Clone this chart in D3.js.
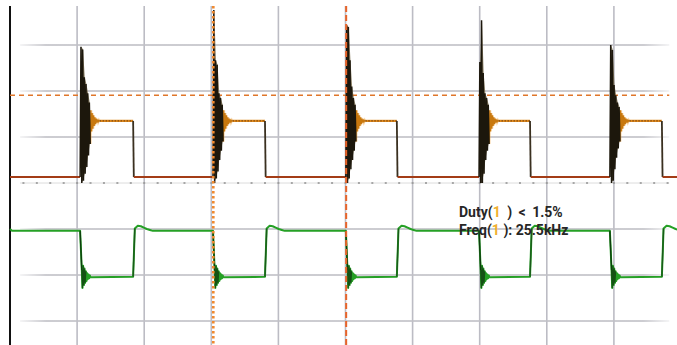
<!DOCTYPE html>
<html>
<head>
<meta charset="utf-8">
<script src="https://cdn.jsdelivr.net/npm/d3@7"></script>
<style>
  body { margin: 0; background: #fff; }
  svg { display: block; }
</style>
</head>
<body>
<svg id="scope"></svg>
<script>
// time in microseconds (20 us/div), amplitude in divisions
const riseUs = [20.9, 60.5, 100.1, 139.8, 178.8];
const fallUs = [36.7, 76.0, 115.3, 155.0, 194.3];
const ch1Levels = [0.13, 1.35];           // low, high
const ch2Levels = [-1.04, -2.04];         // high, low
// ch1 ringing spikes at turn-on, alternating peak / trough (div)
const ch1Spikes = [
    [2.96, 0.0, 2.90, 0.05, 2.30, 0.20, 2.15, 0.35, 1.95, 0.60, 1.75, 0.85],
    [3.76, 0.0, 2.67, 0.10, 2.57, 0.25, 1.95, 0.50, 1.85, 0.70, 1.70, 0.90],
    [3.43, 0.0, 3.39, 0.10, 2.67, 0.30, 2.10, 0.50, 1.85, 0.70, 1.70, 0.90],
    [2.63, 0.0, 3.54, 0.00, 2.39, 0.20, 1.95, 0.50, 1.85, 0.70, 1.70, 0.85],
    [3.00, 0.0, 2.89, 0.05, 2.13, 0.30, 1.91, 0.55, 1.75, 0.75, 1.65, 0.90]
];
const ch1Ring = [1.58, 1.12, 1.52, 1.18, 1.47, 1.24, 1.43, 1.28, 1.40, 1.31, 1.38, 1.33, 1.36, 1.34];
const ch2Ring = [-2.28, -1.80, -2.22, -1.86, -2.17, -1.92, -2.13, -1.96, -2.09, -1.99, -2.07, -2.01, -2.05];
const ch2Overshoot = [-0.93, -0.94, -0.97, -1.00, -1.02, -1.04];
const cursorUs = [60.6, 100.2];
const trigLevel = [1.91];
const readouts = [["Duty(", "1", " ) < 1.5%"], ["Freq(", "1", " ): 25.5kHz"]];

const W = 677, H = 345;
const spikeStep = 0.25, ringStep = 0.2, overStep = 0.9;

const svg = d3.select("#scope").attr("width", W).attr("height", H);
svg.append("rect").attr("width", W).attr("height", H).attr("fill", "#fff");

const x = d3.scaleLinear().domain([0, 200]).range([10, 681]);
const y = d3.scaleLinear().domain([-4, 4]).range([367, -1]);
const line = d3.line().x(d => x(d[0])).y(d => y(d[1]));

// faded grid line gradient
const defs = svg.append("defs");
const gr = defs.append("linearGradient").attr("id", "fadeH");
gr.append("stop").attr("offset", "0%").attr("stop-color", "#c0c0c6").attr("stop-opacity", 0.2);
gr.append("stop").attr("offset", "4%").attr("stop-color", "#c0c0c6").attr("stop-opacity", 1);
gr.append("stop").attr("offset", "96%").attr("stop-color", "#c0c0c6").attr("stop-opacity", 1);
gr.append("stop").attr("offset", "100%").attr("stop-color", "#c0c0c6").attr("stop-opacity", 0.2);

const grid = svg.append("g");
grid.selectAll(".vg").data(d3.range(20, 200, 20)).enter().append("line")
    .attr("x1", d => x(d)).attr("x2", d => x(d))
    .attr("y1", 6).attr("y2", H)
    .attr("stroke", "#bcbcc4").attr("stroke-width", 1.6);
grid.selectAll(".hg").data([-3, -2, -1, 1, 2, 3]).enter().append("rect")
    .attr("x", x(3)).attr("width", x(196.5) - x(3))
    .attr("y", d => y(d) - 0.8).attr("height", 1.6)
    .attr("fill", "url(#fadeH)");
// centre axis with minor ticks
grid.append("line")
    .attr("x1", x(3)).attr("x2", x(196.5)).attr("y1", y(0)).attr("y2", y(0))
    .attr("stroke", "#dcdcdc").attr("stroke-width", 1);
grid.selectAll(".mt").data(d3.range(4, 197, 4)).enter().append("line")
    .attr("x1", d => x(d) - 1).attr("x2", d => x(d) + 1)
    .attr("y1", y(0)).attr("y2", y(0))
    .attr("stroke", "#888").attr("stroke-width", 1.4);

// left border
svg.append("line").attr("x1", x(0)).attr("x2", x(0)).attr("y1", 6).attr("y2", H)
    .attr("stroke", "#111").attr("stroke-width", 2);

// trigger level
svg.append("line").attr("x1", x(0)).attr("x2", x(196.5))
    .attr("y1", y(trigLevel[0])).attr("y2", y(trigLevel[0]))
    .attr("stroke", "#e0762a").attr("stroke-width", 1.5).attr("stroke-dasharray", "5,4");

// ---- channel 1 ----
const ch1 = svg.append("g").attr("fill", "none");
const [lo1, hi1] = ch1Levels;
riseUs.forEach((r, i) => {
    const prev = i === 0 ? 0 : fallUs[i - 1] + 0.2;
    ch1.append("path").attr("d", line([[prev, lo1], [r, lo1]]))
        .attr("stroke", "#a33c16").attr("stroke-width", 2);

    const sp = [[r, lo1]].concat(ch1Spikes[i].map((v, k) => [r + (k + 1) * spikeStep, v]));
    const t0 = r + ch1Spikes[i].length * spikeStep;
    const rg = ch1Ring.map((v, k) => [t0 + (k + 1) * ringStep, v]);
    const t1 = t0 + ch1Ring.length * ringStep;

    // envelope of the spikes
    const env = [];
    for (let k = 0; k + 1 < ch1Spikes[i].length; k += 2)
        env.push([r + (k + 1.5) * spikeStep, ch1Spikes[i][k], ch1Spikes[i][k + 1]]);
    ch1.append("path")
        .attr("d", d3.area().x(d => x(d[0])).y0(d => y(d[2])).y1(d => y(d[1]))(env))
        .attr("fill", "#76694a").attr("fill-opacity", 0.85);

    // orange ringing glow + trace
    ch1.append("path").attr("d", line([sp[sp.length - 1]].concat(rg)))
        .attr("stroke", "#f0a038").attr("stroke-width", 3).attr("stroke-opacity", 0.4);
    ch1.append("path").attr("d", line([sp[sp.length - 1]].concat(rg)))
        .attr("stroke", "#c8780e").attr("stroke-width", 1.2);
    // plateau
    ch1.append("path").attr("d", line([[t1, hi1], [fallUs[i], hi1]]))
        .attr("stroke", "#e08a1c").attr("stroke-width", 2.2);
    ch1.append("path").attr("d", line([[t1, hi1], [fallUs[i], hi1]]))
        .attr("stroke", "#6a3a10").attr("stroke-width", 1).attr("stroke-dasharray", "1.5,1.5");
    // spikes
    ch1.append("path").attr("d", line(sp))
        .attr("stroke", "#1c170c").attr("stroke-width", 1.5);
    // falling edge
    ch1.append("path").attr("d", line([[fallUs[i], hi1], [fallUs[i] + 0.2, lo1]]))
        .attr("stroke", "#3a3020").attr("stroke-width", 1.8);
});
ch1.append("path").attr("d", line([[fallUs[fallUs.length - 1] + 0.2, lo1], [200, lo1]]))
    .attr("stroke", "#a33c16").attr("stroke-width", 2);

// ---- channel 2 ----
const ch2 = svg.append("g").attr("fill", "none");
const [hi2, lo2] = ch2Levels;
const g2 = [[0, hi2 + 0.04], [0.6, hi2]];
riseUs.forEach((r, i) => {
    g2.push([r, hi2]);
    g2.push([r + 0.5, lo2 + 0.15]);
    ch2Ring.forEach((v, k) => g2.push([r + 0.5 + (k + 1) * ringStep, v]));
    g2.push([fallUs[i], lo2]);
    g2.push([fallUs[i] + 0.5, hi2 + 0.05]);
    ch2Overshoot.forEach((v, k) => g2.push([fallUs[i] + 0.5 + (k + 1) * overStep, v]));
});
g2.push([200, hi2]);
ch2.append("path").attr("d", line(g2))
    .attr("stroke", "#25a025").attr("stroke-width", 2).attr("stroke-linejoin", "round");
// darker edges
riseUs.forEach((r, i) => {
    ch2.append("path").attr("d", line([[r, hi2], [r + 0.5, lo2 + 0.15]]))
        .attr("stroke", "#0e3e0e").attr("stroke-width", 1.4);
    ch2.append("path").attr("d", line([[r + 0.5, lo2 + 0.15]].concat(ch2Ring.slice(0, 6).map((v, k) => [r + 0.5 + (k + 1) * ringStep, v]))))
        .attr("stroke", "#145214").attr("stroke-width", 1.2);
    ch2.append("path").attr("d", line([[fallUs[i], lo2], [fallUs[i] + 0.5, hi2 + 0.05]]))
        .attr("stroke", "#1a5a1a").attr("stroke-width", 1.4);
});

// cursors
svg.append("line").attr("x1", x(cursorUs[0])).attr("x2", x(cursorUs[0]))
    .attr("y1", 6).attr("y2", H)
    .attr("stroke", "#f08a30").attr("stroke-width", 2.6).attr("stroke-dasharray", "2.5,2.5");
svg.append("line").attr("x1", x(cursorUs[1])).attr("x2", x(cursorUs[1]))
    .attr("y1", 6).attr("y2", H)
    .attr("stroke", "#e8642a").attr("stroke-width", 2).attr("stroke-dasharray", "6,3");

// readouts
const txt = svg.append("g").attr("font-family", "Roboto, 'Liberation Sans', sans-serif")
    .attr("font-size", 14).attr("font-weight", 700).attr("fill", "#262626");
readouts.forEach((parts, i) => {
    const t = txt.append("text").attr("x", 459).attr("y", 217 + i * 18)
        .attr("word-spacing", i === 0 ? 3 : 0);
    parts.forEach((p, k) => t.append("tspan").text(p).attr("fill", k === 1 ? "#f0b030" : null));
});
</script>
</body>
</html>
